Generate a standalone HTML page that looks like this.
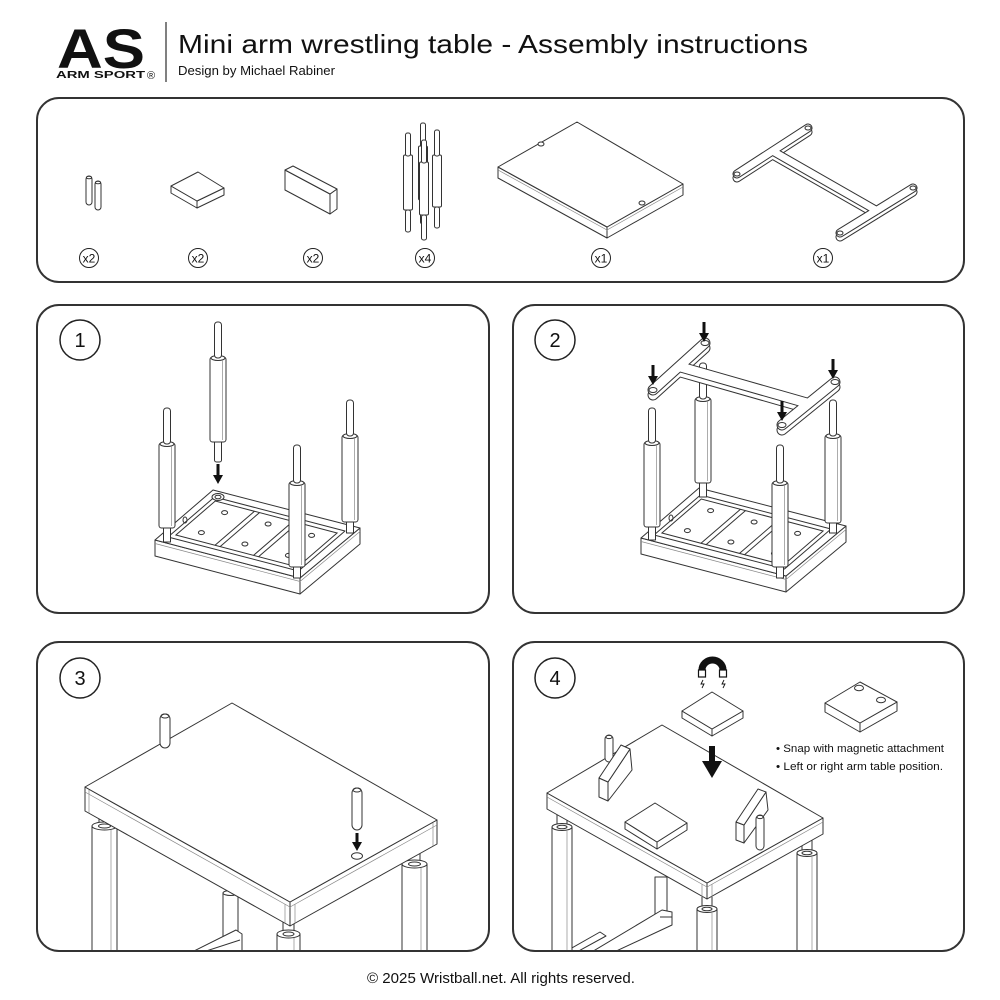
<!DOCTYPE html>
<html>
<head>
<meta charset="utf-8">
<style>
html,body{margin:0;padding:0;background:#fff;}
svg{display:block;}
.s{fill:#fff;stroke:#333;stroke-width:1;stroke-linejoin:round;}
.n{fill:none;stroke:#333;stroke-width:1;}
.t{fill:none;stroke:#888;stroke-width:0.7;}
.p{fill:none;stroke:#333;stroke-width:2;}
.k{fill:#111;stroke:none;}
text{font-family:"Liberation Sans",sans-serif;fill:#111;}
</style>
</head>
<body>
<svg width="1000" height="1000" viewBox="0 0 1000 1000" xmlns="http://www.w3.org/2000/svg">
<defs>
<clipPath id="c3"><rect x="38" y="643" width="450" height="307" rx="21"/></clipPath>
<clipPath id="c4"><rect x="514" y="643" width="449" height="307" rx="21"/></clipPath>
</defs>
<rect width="1000" height="1000" fill="#fff"/>

<!-- HEADER -->
<text x="57" y="68" font-size="56" font-weight="bold" textLength="88" lengthAdjust="spacingAndGlyphs" fill="#000">AS</text>
<text x="56" y="78" font-size="10" font-weight="bold" textLength="89" lengthAdjust="spacingAndGlyphs" fill="#000">ARM SPORT</text>
<text x="147" y="79" font-size="11" fill="#000">®</text>
<line x1="166" y1="22" x2="166" y2="82" stroke="#555" stroke-width="1.5"/>
<text x="178" y="53" font-size="26" textLength="630" lengthAdjust="spacingAndGlyphs">Mini arm wrestling table - Assembly instructions</text>
<text x="178" y="75" font-size="12.5" textLength="157" lengthAdjust="spacingAndGlyphs">Design by Michael Rabiner</text>

<!-- PARTS PANEL -->
<rect class="p" x="37" y="98" width="927" height="184" rx="22"/>

<!-- pins x2 -->
<rect class="s" x="86" y="176" width="6" height="29" rx="3"/>
<ellipse class="s" cx="89" cy="177.5" rx="2.5" ry="1.3"/>
<rect class="s" x="95" y="181" width="6" height="29" rx="3"/>
<ellipse class="s" cx="98" cy="182.5" rx="2.5" ry="1.3"/>

<!-- square magnet -->
<polygon class="s" points="171,186 197,201 197,208 171,193"/>
<polygon class="s" points="197,201 224,188 224,195 197,208"/>
<polygon class="s" points="198,172 224,188 197,201 171,186"/>

<!-- rect block -->
<polygon class="s" points="285,170 330,194 330,214 285,190"/>
<polygon class="s" points="330,194 337,189 337,209 330,214"/>
<polygon class="s" points="285,170 293,166 337,189 330,194"/>

<!-- legs x4 -->
<g class="s">
<rect x="420.5" y="123" width="5" height="24" rx="2"/>
<rect x="418.5" y="146" width="9" height="54" rx="1.5"/>
<rect x="420.5" y="200" width="5" height="24" rx="2"/>
<rect x="405.5" y="210" width="5" height="22" rx="2"/>
<rect x="403.5" y="155" width="9" height="55" rx="1.5"/>
<rect x="405.5" y="133" width="5" height="23" rx="2"/>
<rect x="434.5" y="207" width="5" height="21" rx="2"/>
<rect x="432.5" y="155" width="9" height="52" rx="1.5"/>
<rect x="434.5" y="130" width="5" height="26" rx="2"/>
<rect x="421.5" y="215" width="5" height="25" rx="2"/>
<rect x="419.5" y="162" width="9" height="53" rx="1.5"/>
<rect x="421.5" y="140" width="5" height="23" rx="2"/>
</g>

<!-- tabletop part -->
<polygon class="s" points="498,167 607,227 607,238 498,178"/>
<polygon class="s" points="607,227 683,184 683,195 607,238"/>
<polygon class="s" points="577,122 683,184 607,227 498,167"/>
<polyline class="t" points="498,170 607,230 683,187"/>
<ellipse class="s" cx="541" cy="144" rx="3" ry="2"/>
<ellipse class="s" cx="642" cy="203" rx="3" ry="2"/>

<!-- H frame part -->
<g fill="none" stroke-linecap="round">
<g transform="translate(0,4)">
<path d="M737,174 L808,128 M840,233 L913,188 M772.5,151 L876.5,210.5" stroke="#333" stroke-width="9"/>
<path d="M737,174 L808,128 M840,233 L913,188 M772.5,151 L876.5,210.5" stroke="#fff" stroke-width="7"/>
</g>
<path d="M737,174 L808,128 M840,233 L913,188 M772.5,151 L876.5,210.5" stroke="#333" stroke-width="9"/>
<path d="M737,174 L808,128 M840,233 L913,188 M772.5,151 L876.5,210.5" stroke="#fff" stroke-width="7"/>
</g>
<ellipse class="n" cx="737" cy="174" rx="3" ry="2"/>
<ellipse class="n" cx="808" cy="128" rx="3" ry="2"/>
<ellipse class="n" cx="840" cy="233" rx="3" ry="2"/>
<ellipse class="n" cx="913" cy="188" rx="3" ry="2"/>

<!-- quantity labels -->
<g fill="none" stroke="#222" stroke-width="1">
<circle cx="89" cy="258" r="9.5"/>
<circle cx="198" cy="258" r="9.5"/>
<circle cx="313" cy="258" r="9.5"/>
<circle cx="425" cy="258" r="9.5"/>
<circle cx="601" cy="258" r="9.5"/>
<circle cx="823" cy="258" r="9.5"/>
</g>
<g font-size="12" text-anchor="middle">
<text x="89" y="262.5">x2</text>
<text x="198" y="262.5">x2</text>
<text x="313" y="262.5">x2</text>
<text x="425" y="262.5">x4</text>
<text x="601" y="262.5">x1</text>
<text x="823" y="262.5">x1</text>
</g>

<!-- PANEL 1 -->
<rect class="p" x="37" y="305" width="452" height="308" rx="22"/>
<circle cx="80" cy="340" r="20" fill="none" stroke="#222" stroke-width="1.5"/>
<text x="80" y="347" font-size="20" text-anchor="middle">1</text>

<g id="base1">
<polygon class="s" points="155,540 300,578 300,594 155,556"/>
<polygon class="s" points="300,578 360,528 360,544 300,594"/>
<polygon class="s" points="155,540 213,490 360,528 300,578"/>
<polyline class="t" points="155,543.5 300,581.5 360,531.5"/>
<polygon class="s" points="168,537 298.5,571 345,531 214.5,497"/>
<polygon class="n" points="175.9,535 297.7,567 337.1,533 215.3,501"/>
<line class="n" x1="215" y1="545.3" x2="254.5" y2="511.3"/>
<line class="n" x1="220.1" y1="546.6" x2="259.5" y2="512.6"/>
<line class="n" x1="253.5" y1="555.4" x2="292.9" y2="521.4"/>
<line class="n" x1="258.5" y1="556.7" x2="298" y2="522.7"/>
<g class="n">
<ellipse cx="201.4" cy="532.6" rx="3" ry="2"/>
<ellipse cx="224.6" cy="512.6" rx="3" ry="2"/>
<ellipse cx="244.9" cy="544" rx="3" ry="2"/>
<ellipse cx="268.1" cy="524" rx="3" ry="2"/>
<ellipse cx="288.4" cy="555.4" rx="3" ry="2"/>
<ellipse cx="311.6" cy="535.4" rx="3" ry="2"/>
<ellipse cx="185" cy="520" rx="2" ry="3"/>
</g>
</g>
<ellipse class="s" cx="218" cy="497" rx="6" ry="3.5"/>
<ellipse class="n" cx="218" cy="497" rx="3" ry="1.8"/>

<g class="s">
<!-- L4 -->
<rect x="346.5" y="520" width="7" height="13"/>
<rect x="342" y="435" width="16" height="87" rx="2.5"/>
<ellipse cx="350" cy="436" rx="7" ry="2.5"/>
<rect x="346.5" y="400" width="7" height="36" rx="3"/>
<!-- L1 -->
<rect x="163.5" y="526" width="7" height="16"/>
<rect x="159" y="443" width="16" height="85" rx="2.5"/>
<ellipse cx="167" cy="444" rx="7" ry="2.5"/>
<rect x="163.5" y="408" width="7" height="36" rx="3"/>
<!-- L3 -->
<rect x="293.5" y="565" width="7" height="13"/>
<rect x="289" y="482" width="16" height="85" rx="2.5"/>
<ellipse cx="297" cy="483" rx="7" ry="2.5"/>
<rect x="293.5" y="445" width="7" height="38" rx="3"/>
<!-- L2 floating -->
<rect x="214.5" y="440" width="7" height="22" rx="2"/>
<rect x="210" y="357" width="16" height="85" rx="2.5"/>
<ellipse cx="218" cy="358" rx="7" ry="2.5"/>
<rect x="214.5" y="322" width="7" height="36" rx="3"/>
</g>
<g class="t">
<line x1="354.5" y1="438" x2="354.5" y2="520"/>
<line x1="171.5" y1="446" x2="171.5" y2="526"/>
<line x1="301.5" y1="485" x2="301.5" y2="565"/>
<line x1="222.5" y1="360" x2="222.5" y2="440"/>
</g>
<rect class="k" x="216.5" y="464" width="3" height="12"/>
<polygon class="k" points="213,475 223,475 218,484"/>

<!-- PANEL 2 -->
<rect class="p" x="513" y="305" width="451" height="308" rx="22"/>
<circle cx="555" cy="340" r="20" fill="none" stroke="#222" stroke-width="1.5"/>
<text x="555" y="347" font-size="20" text-anchor="middle">2</text>

<use href="#base1" transform="translate(486,-2)"/>

<g class="s">
<!-- back-left 703 -->
<rect x="699.5" y="481" width="7" height="16"/>
<rect x="695" y="398" width="16" height="85" rx="2.5"/>
<ellipse cx="703" cy="399" rx="7" ry="2.5"/>
<rect x="699.5" y="363" width="7" height="36" rx="3"/>
<!-- back-right 833 -->
<rect x="829.5" y="521" width="7" height="12"/>
<rect x="825" y="435" width="16" height="88" rx="2.5"/>
<ellipse cx="833" cy="436" rx="7" ry="2.5"/>
<rect x="829.5" y="400" width="7" height="36" rx="3"/>
<!-- left 652 -->
<rect x="648.5" y="525" width="7" height="15"/>
<rect x="644" y="442" width="16" height="85" rx="2.5"/>
<ellipse cx="652" cy="443" rx="7" ry="2.5"/>
<rect x="648.5" y="408" width="7" height="35" rx="3"/>
<!-- front 780 -->
<rect x="776.5" y="565" width="7" height="13"/>
<rect x="772" y="482" width="16" height="85" rx="2.5"/>
<ellipse cx="780" cy="483" rx="7" ry="2.5"/>
<rect x="776.5" y="445" width="7" height="38" rx="3"/>
</g>
<g class="t">
<line x1="707.5" y1="401" x2="707.5" y2="481"/>
<line x1="837.5" y1="438" x2="837.5" y2="521"/>
<line x1="656.5" y1="445" x2="656.5" y2="525"/>
<line x1="784.5" y1="485" x2="784.5" y2="565"/>
</g>

<!-- H frame panel 2 -->
<g fill="none" stroke-linecap="round">
<g transform="translate(0,5)">
<path d="M653,390 L705,343 M782,425 L835,382 M679,366.5 L808.5,403.5" stroke="#333" stroke-width="11"/>
<path d="M653,390 L705,343 M782,425 L835,382 M679,366.5 L808.5,403.5" stroke="#fff" stroke-width="9"/>
</g>
<path d="M653,390 L705,343 M782,425 L835,382 M679,366.5 L808.5,403.5" stroke="#333" stroke-width="11"/>
<path d="M653,390 L705,343 M782,425 L835,382 M679,366.5 L808.5,403.5" stroke="#fff" stroke-width="9"/>
</g>
<g class="n">
<ellipse cx="653" cy="390" rx="4" ry="2.5"/>
<ellipse cx="705" cy="343" rx="4" ry="2.5"/>
<ellipse cx="782" cy="425" rx="4" ry="2.5"/>
<ellipse cx="835" cy="382" rx="4" ry="2.5"/>
</g>
<g class="k">
<rect x="702.5" y="322" width="3" height="12"/><polygon points="699,333 709,333 704,342"/>
<rect x="651.5" y="365" width="3" height="12"/><polygon points="648,376 658,376 653,385"/>
<rect x="831.5" y="359" width="3" height="12"/><polygon points="828,370 838,370 833,379"/>
<rect x="780.5" y="401" width="3" height="12"/><polygon points="777,412 787,412 782,421"/>
</g>

<!-- PANEL 3 -->
<g clip-path="url(#c3)">
<g class="s">
<!-- back leg -->
<rect x="223" y="893" width="15" height="70"/>
<ellipse cx="230.5" cy="893" rx="7.5" ry="2.5"/>
<polygon points="190,953 236,930 242,934 242,953"/>
<line x1="200" y1="953" x2="240" y2="940"/>
<!-- left leg -->
<rect x="99" y="806" width="11" height="20"/>
<rect x="92" y="826" width="25" height="140"/>
<ellipse cx="104.5" cy="826" rx="12.5" ry="4"/>
<ellipse cx="104.5" cy="826" rx="6" ry="2"/>
<!-- right leg -->
<rect x="409" y="838" width="11" height="26"/>
<rect x="402" y="864" width="25" height="100"/>
<ellipse cx="414.5" cy="864" rx="12.5" ry="4"/>
<ellipse cx="414.5" cy="864" rx="6" ry="2"/>
<!-- front leg -->
<rect x="283" y="918" width="11" height="16"/>
<rect x="277" y="934" width="23" height="30"/>
<ellipse cx="288.5" cy="934" rx="11.5" ry="4"/>
<ellipse cx="288.5" cy="934" rx="5.5" ry="2"/>
</g>
<g class="t">
<line x1="111" y1="830" x2="111" y2="960"/>
<line x1="421" y1="868" x2="421" y2="960"/>
<line x1="294" y1="938" x2="294" y2="960"/>
</g>
</g>
<polygon class="s" points="85,787 290,902 290,926 85,811"/>
<polygon class="s" points="290,902 437,820 437,844 290,926"/>
<polygon class="s" points="232,703 437,820 290,902 85,787"/>
<polyline class="t" points="85,792 290,907 437,825"/>
<g class="t">
<line x1="89" y1="790" x2="89" y2="813"/>
<line x1="285" y1="904" x2="285" y2="923"/>
<line x1="295" y1="904" x2="295" y2="923"/>
<line x1="433" y1="823" x2="433" y2="846"/>
</g>
<!-- pins on top -->
<rect class="s" x="160" y="714" width="10" height="34" rx="5"/>
<ellipse class="n" cx="165" cy="716" rx="4" ry="2"/>
<rect class="s" x="352" y="788" width="10" height="42" rx="5"/>
<ellipse class="n" cx="357" cy="790" rx="4" ry="2"/>
<ellipse class="s" cx="357" cy="856" rx="5.5" ry="3.2"/>
<rect class="k" x="355.5" y="833" width="3" height="10"/>
<polygon class="k" points="352,842 362,842 357,851"/>

<rect class="p" x="37" y="642" width="452" height="309" rx="22"/>
<circle cx="80" cy="678" r="20" fill="none" stroke="#222" stroke-width="1.5"/>
<text x="80" y="685" font-size="20" text-anchor="middle">3</text>

<!-- PANEL 4 -->
<g clip-path="url(#c4)">
<g class="s">
<!-- back leg and frame -->
<rect x="655" y="877" width="12" height="40"/>
<polygon points="590,953 662,910 672,912 672,925 612,953"/>
<line x1="660" y1="917" x2="672" y2="917"/>
<polygon points="563,953 600,932 606,936 575,953"/>
<!-- left leg -->
<rect x="557" y="806" width="10" height="21"/>
<rect x="552" y="827" width="20" height="140"/>
<ellipse cx="562" cy="827" rx="10" ry="3.5"/>
<ellipse cx="562" cy="827" rx="5" ry="1.8"/>
<!-- right leg -->
<rect x="802" y="830" width="10" height="23"/>
<rect x="797" y="853" width="20" height="110"/>
<ellipse cx="807" cy="853" rx="10" ry="3.5"/>
<ellipse cx="807" cy="853" rx="5" ry="1.8"/>
<!-- front leg -->
<rect x="702" y="896" width="10" height="13"/>
<rect x="697" y="909" width="20" height="60"/>
<ellipse cx="707" cy="909" rx="10" ry="3.5"/>
<ellipse cx="707" cy="909" rx="5" ry="1.8"/>
</g>
<g class="t">
<line x1="567" y1="831" x2="567" y2="960"/>
<line x1="812" y1="857" x2="812" y2="960"/>
<line x1="712" y1="913" x2="712" y2="960"/>
</g>
</g>
<polygon class="s" points="547,793 707,883 707,899 547,809"/>
<polygon class="s" points="707,883 823,818 823,834 707,899"/>
<polygon class="s" points="662,725 823,818 707,883 547,793"/>
<polyline class="t" points="547,797 707,887 823,822"/>
<g class="t">
<line x1="702" y1="884" x2="702" y2="897"/>
<line x1="712" y1="884" x2="712" y2="897"/>
</g>

<!-- left pin + block -->
<rect class="s" x="605" y="735" width="8" height="27" rx="4"/>
<ellipse class="n" cx="609" cy="737" rx="3" ry="1.6"/>
<polygon class="s" points="599,778 608,782 608,801 599,797"/>
<polygon class="s" points="608,782 630,749 632,770 608,801"/>
<polygon class="s" points="599,778 621,745 630,749 608,782"/>

<!-- magnet on table -->
<polygon class="s" points="625,822 657,842 657,849 625,829"/>
<polygon class="s" points="657,842 687,823 687,830 657,849"/>
<polygon class="s" points="655,803 687,823 657,842 625,822"/>

<!-- right block + pin -->
<polygon class="s" points="736,822 744,825 744,843 736,840"/>
<polygon class="s" points="744,825 766,792 768,810 744,843"/>
<polygon class="s" points="736,822 758,789 766,792 744,825"/>
<rect class="s" x="756" y="815" width="8" height="35" rx="4"/>
<ellipse class="n" cx="760" cy="817" rx="3" ry="1.6"/>

<!-- big arrow -->
<rect class="k" x="709" y="746" width="6" height="17"/>
<polygon class="k" points="702,761 722,761 712,778"/>

<!-- floating magnet -->
<polygon class="s" points="682,711 712,729 712,736 682,718"/>
<polygon class="s" points="712,729 743,711 743,718 712,736"/>
<polygon class="s" points="712,692 743,711 712,729 682,711"/>

<!-- magnet icon -->
<path d="M702,671 V670 A10.5,10 0 0 1 723,670 V671" fill="none" stroke="#111" stroke-width="7"/>
<rect x="698.5" y="670" width="7" height="7" fill="#fff" stroke="#111" stroke-width="1.2"/>
<rect x="719.5" y="670" width="7" height="7" fill="#fff" stroke="#111" stroke-width="1.2"/>
<polyline points="703,680 701,684 704,684 702,688" fill="none" stroke="#111" stroke-width="0.9"/>
<polyline points="724,680 722,684 725,684 723,688" fill="none" stroke="#111" stroke-width="0.9"/>

<!-- side magnet -->
<polygon class="s" points="825,703 860,723 860,732 825,712"/>
<polygon class="s" points="860,723 897,702 897,711 860,732"/>
<polygon class="s" points="860,682 897,702 860,723 825,703"/>
<ellipse class="n" cx="859" cy="688" rx="4.5" ry="2.8"/>
<ellipse class="n" cx="881" cy="700" rx="4.5" ry="2.8"/>

<text x="776" y="752" font-size="11" textLength="168" lengthAdjust="spacingAndGlyphs">• Snap with magnetic attachment</text>
<text x="776" y="770" font-size="11" textLength="167" lengthAdjust="spacingAndGlyphs">• Left or right arm table position.</text>

<rect class="p" x="513" y="642" width="451" height="309" rx="22"/>
<circle cx="555" cy="678" r="20" fill="none" stroke="#222" stroke-width="1.5"/>
<text x="555" y="685" font-size="20" text-anchor="middle">4</text>

<!-- FOOTER -->
<text x="367" y="983" font-size="15" textLength="268" lengthAdjust="spacingAndGlyphs">© 2025 Wristball.net. All rights reserved.</text>
</svg>
</body>
</html>
